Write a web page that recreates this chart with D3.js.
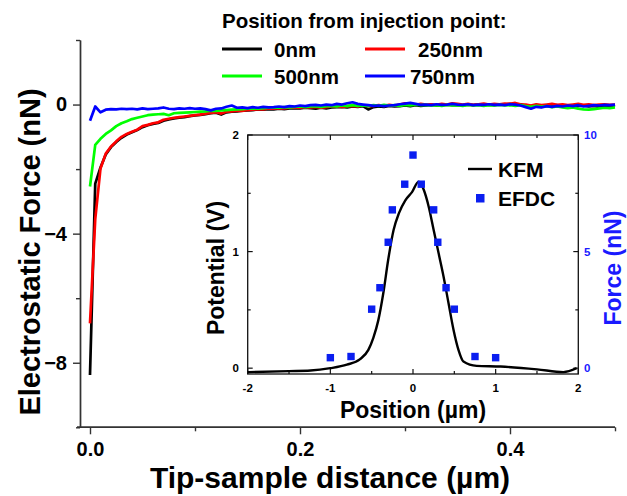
<!DOCTYPE html>
<html><head><meta charset="utf-8">
<script src="https://cdn.jsdelivr.net/npm/d3@7"></script>
<style>body{margin:0;background:#fff}svg{display:block}text{font-family:"Liberation Sans",Arial,sans-serif;font-weight:bold}</style>
</head><body>
<script>
// ---- main chart data ----
const distance = [0,0.005,0.01,0.015,0.02,0.025,0.03,0.035,0.04,0.045,0.05,0.055,0.06,0.065,0.07,0.075,0.08,0.085,0.09,0.095,
0.1,0.105,0.11,0.115,0.12,0.125,0.13,0.135,0.14,0.145,0.15,0.155,0.16,0.165,0.17,0.175,0.18,0.185,0.19,0.195,
0.2,0.205,0.21,0.215,0.22,0.225,0.23,0.235,0.24,0.245,0.25,0.255,0.26,0.265,0.27,0.275,0.28,0.285,0.29,0.295,
0.3,0.305,0.31,0.315,0.32,0.325,0.33,0.335,0.34,0.345,0.35,0.355,0.36,0.365,0.37,0.375,0.38,0.385,0.39,0.395,
0.4,0.405,0.41,0.415,0.42,0.425,0.43,0.435,0.44,0.445,0.45,0.455,0.46,0.465,0.47,0.475,0.48,0.485,0.49,0.495,0.5];
const force0 = [-8.38,-2.45,-1.95,-1.55,-1.32,-1.16,-1.03,-0.93,-0.86,-0.79,-0.70,-0.64,-0.60,-0.57,-0.50,-0.46,-0.43,-0.41,-0.39,-0.36,
-0.34,-0.32,-0.30,-0.27,-0.25,-0.31,-0.24,-0.22,-0.21,-0.19,-0.18,-0.17,-0.15,-0.16,-0.14,-0.15,-0.13,-0.14,-0.12,-0.11,
-0.12,-0.10,-0.11,-0.13,-0.10,-0.12,-0.09,-0.08,-0.07,-0.09,-0.06,-0.07,-0.05,-0.15,-0.08,-0.06,-0.07,-0.04,-0.06,-0.05,
-0.03,-0.05,-0.02,-0.04,-0.03,-0.01,-0.03,-0.02,0.00,-0.02,-0.01,-0.03,0.00,-0.02,0.01,-0.01,0.00,-0.02,0.01,0.00,
0.02,0.00,0.01,-0.03,-0.10,-0.05,-0.07,-0.03,-0.05,-0.02,-0.06,-0.04,-0.07,-0.05,-0.03,-0.06,-0.04,-0.07,-0.03,-0.05,-0.02];
const force250 = [-6.78,-3.55,-1.98,-1.52,-1.30,-1.14,-1.00,-0.91,-0.84,-0.78,-0.67,-0.63,-0.58,-0.55,-0.47,-0.44,-0.41,-0.39,-0.37,-0.35,
-0.33,-0.31,-0.28,-0.26,-0.24,-0.28,-0.22,-0.21,-0.19,-0.20,-0.17,-0.16,-0.14,-0.15,-0.12,-0.13,-0.11,-0.12,-0.10,-0.09,
-0.10,-0.08,-0.09,-0.07,-0.10,-0.08,-0.06,-0.05,-0.07,-0.05,-0.04,-0.06,-0.03,-0.05,-0.04,-0.02,-0.04,-0.01,-0.03,0.00,
0.04,0.01,-0.01,0.02,0.00,0.01,-0.01,0.02,0.00,0.04,0.02,0.00,0.02,-0.01,0.01,0.03,0.00,0.02,0.01,0.03,
0.02,0.05,0.01,0.00,-0.03,0.01,-0.02,0.00,0.02,-0.01,0.01,-0.02,0.00,0.02,-0.01,0.01,-0.02,0.00,0.01,-0.01,0.00];
const force500 = [-2.54,-1.25,-1.06,-0.91,-0.80,-0.67,-0.58,-0.52,-0.45,-0.41,-0.37,-0.33,-0.31,-0.30,-0.29,-0.33,-0.27,-0.26,-0.25,-0.24,
-0.23,-0.22,-0.21,-0.19,-0.20,-0.18,-0.17,-0.16,-0.15,-0.14,-0.13,-0.12,-0.13,-0.11,-0.10,-0.09,-0.10,-0.08,-0.09,-0.07,
-0.06,-0.08,-0.06,-0.05,-0.07,-0.05,-0.04,-0.06,-0.03,-0.05,-0.02,-0.04,-0.03,-0.05,-0.02,-0.04,-0.01,-0.03,-0.02,-0.04,
-0.01,-0.03,0.00,-0.02,-0.01,-0.03,-0.02,-0.04,-0.01,-0.03,-0.02,-0.04,-0.01,-0.03,-0.02,-0.04,-0.02,-0.03,-0.01,-0.03,
-0.02,-0.04,-0.02,-0.05,-0.07,-0.04,-0.06,-0.05,-0.08,-0.06,-0.09,-0.11,-0.09,-0.13,-0.15,-0.16,-0.14,-0.12,-0.10,-0.11,-0.09];
const force750 = [-0.50,-0.06,-0.24,-0.16,-0.14,-0.15,-0.13,-0.14,-0.13,-0.15,-0.12,-0.14,-0.13,-0.12,-0.09,-0.13,-0.14,-0.12,-0.13,-0.11,
-0.13,-0.12,-0.14,-0.18,-0.13,-0.12,-0.07,-0.03,-0.10,-0.09,-0.11,-0.08,-0.10,-0.07,-0.09,-0.08,-0.06,-0.08,-0.05,-0.06,
-0.03,-0.05,-0.02,-0.01,-0.03,0.00,-0.02,0.02,0.00,0.04,0.07,0.02,0.00,-0.02,-0.04,-0.03,-0.05,-0.03,-0.02,0.01,
0.03,0.05,0.02,-0.01,0.00,-0.02,0.01,-0.01,0.00,0.02,0.00,-0.01,0.01,-0.02,0.00,-0.01,0.01,-0.01,0.00,-0.02,
0.01,0.00,-0.03,-0.08,-0.13,-0.07,-0.09,-0.05,-0.07,-0.04,-0.06,-0.03,-0.05,-0.02,-0.06,-0.04,-0.02,-0.03,-0.01,-0.02,0.00];
const seriesNames = ["0nm","250nm","500nm","750nm"];
const seriesColors = ["#000000","#ff0000","#00ff00","#0000ff"];
const xTicks = [0, 0.2, 0.4];
const xMinor = [0.1, 0.3, 0.5];
const yTicks = [0, -4, -8];
const yMinor = [2, -2, -6, -10];

// ---- inset data ----
const kfmPos = [-2.0,-1.5,-1.24,-1.0,-0.8,-0.64,-0.54,-0.48,-0.42,-0.36,-0.30,-0.235,-0.17,-0.093,-0.012,0.068,0.13,0.19,0.25,0.31,0.37,0.43,0.49,0.55,0.61,0.77,1.06,1.5,1.82,1.98];
const kfmPot = [-0.034,-0.025,-0.02,0.0,0.03,0.077,0.157,0.26,0.41,0.64,0.93,1.185,1.33,1.44,1.51,1.60,1.53,1.385,1.185,0.985,0.785,0.557,0.33,0.157,0.057,0.02,0.014,-0.01,-0.034,0.0];
const efdcPos = [-1.0,-0.75,-0.5,-0.4,-0.3,-0.25,-0.1,0.0,0.1,0.25,0.3,0.4,0.5,0.75,1.0];
const efdcForce = [0.45,0.5,2.53,3.45,5.4,6.79,7.89,9.14,7.89,6.79,5.4,3.45,2.53,0.5,0.45];
const insetXTicks = [-2,-1,0,1,2];
const insetYTicks = [0,1,2];
const insetY2Ticks = [0,5,10];

const W = 627, H = 496;
const svg = d3.select("body").append("svg").attr("width", W).attr("height", H);

// main scales
const x = d3.scaleLinear().domain([-0.00952, 0.5]).range([80, 615]);
const y = d3.scaleLinear().domain([-10, 2]).range([427.3, 40]);
const axisCol = "#333";

// main axes
const gx = svg.append("g").attr("transform", `translate(0,${y(-10)})`);
gx.call(d3.axisBottom(x).tickValues(xTicks).tickFormat(d3.format(".1f")).tickSize(7).tickSizeOuter(0));
gx.append("g").call(d3.axisBottom(x).tickValues(xMinor).tickFormat("").tickSize(4).tickSizeOuter(0));
gx.selectAll(".domain").attr("stroke", axisCol).attr("stroke-width", 1.4).attr("d", `M77,0H${x(0.5)}`);
gx.selectAll(".tick line").attr("stroke", axisCol).attr("stroke-width", 1.4);
gx.selectAll(".tick text").attr("font-size", 20).attr("fill", "#000").attr("dy", "0.95em");

const gy = svg.append("g").attr("transform", `translate(${x.range()[0]},0)`);
gy.call(d3.axisLeft(y).tickValues(yTicks).tickFormat(d3.format("d")).tickSize(7).tickSizeOuter(0));
gy.append("g").call(d3.axisLeft(y).tickValues(yMinor).tickFormat("").tickSize(4).tickSizeOuter(0));
gy.selectAll(".domain").attr("stroke", axisCol).attr("stroke-width", 1.4);
gy.selectAll(".tick line").attr("stroke", axisCol).attr("stroke-width", 1.4);
gy.selectAll(".tick text").attr("font-size", 20).attr("fill", "#000").attr("x", -13);

// axis titles
svg.append("text").attr("x", 330).attr("y", 488).attr("text-anchor", "middle").attr("font-size", 30).text("Tip-sample distance (µm)");
svg.append("text").attr("transform", "translate(40,252) rotate(-90)").attr("text-anchor", "middle").attr("font-size", 29).text("Electrostatic Force (nN)");

// lines
const series = [force0, force250, force500, force750];
const line = d3.line().x((d, i) => x(distance[i])).y(d => y(d));
series.forEach((s, k) => {
  svg.append("path").datum(s).attr("d", line).attr("fill", "none")
    .attr("stroke", seriesColors[k]).attr("stroke-width", 2.7).attr("stroke-linejoin", "round");
});

// legend
svg.append("text").attr("x", 222).attr("y", 28).attr("font-size", 20.5).text("Position from injection point:");
const legPos = [[222, 49], [365, 49], [222, 76], [365, 76]];
const legTextX = [274, 418, 274, 410];
seriesNames.forEach((n, k) => {
  const [lx, ly] = legPos[k];
  svg.append("line").attr("x1", lx).attr("x2", lx + 40).attr("y1", ly).attr("y2", ly)
    .attr("stroke", seriesColors[k]).attr("stroke-width", 3);
  svg.append("text").attr("x", legTextX[k]).attr("y", ly + 7.5).attr("font-size", 20.5).text(n);
});

// ---- inset ----
const ix = d3.scaleLinear().domain([-2, 2]).range([247.7, 578.3]);
const iy = d3.scaleLinear().domain([-0.05, 2]).range([374, 135]);
const iy2 = d3.scaleLinear().domain([-0.25, 10]).range([374, 135]);
const ins = svg.append("g");
ins.append("rect").attr("x", ix(-2)).attr("y", iy(2)).attr("width", ix(2) - ix(-2)).attr("height", iy(-0.05) - iy(2))
  .attr("fill", "#fff").attr("stroke", "#111").attr("stroke-width", 1.3);

const iMajor = [-2,-1,0,1,2], iMinor = [-1.5,-0.5,0.5,1.5];
function ticksH(yy, dir) {
  iMajor.forEach(v => ins.append("line").attr("x1", ix(v)).attr("x2", ix(v)).attr("y1", yy).attr("y2", yy + dir * 5).attr("stroke", "#111").attr("stroke-width", 1.2));
  iMinor.forEach(v => ins.append("line").attr("x1", ix(v)).attr("x2", ix(v)).attr("y1", yy).attr("y2", yy + dir * 3).attr("stroke", "#111").attr("stroke-width", 1.2));
}
ticksH(iy(-0.05), -1); ticksH(iy(2), 1);
[0, 0.5, 1, 1.5, 2].forEach((v, i) => {
  const len = i % 2 === 0 ? 5 : 3;
  ins.append("line").attr("x1", ix(-2)).attr("x2", ix(-2) + len).attr("y1", iy(v)).attr("y2", iy(v)).attr("stroke", "#111").attr("stroke-width", 1.2);
});
[0, 2.5, 5, 7.5, 10].forEach((v, i) => {
  const len = i % 2 === 0 ? 5 : 3;
  ins.append("line").attr("x1", ix(2)).attr("x2", ix(2) - len).attr("y1", iy2(v)).attr("y2", iy2(v)).attr("stroke", "#111").attr("stroke-width", 1.2);
});
insetXTicks.forEach(v => ins.append("text").attr("x", ix(v)).attr("y", 392).attr("text-anchor", "middle").attr("font-size", 11.5).text(v));
insetYTicks.forEach(v => ins.append("text").attr("x", 239).attr("y", iy(v) + 4).attr("text-anchor", "end").attr("font-size", 11.5).text(v));
insetY2Ticks.forEach(v => ins.append("text").attr("x", 584).attr("y", iy2(v) + 4).attr("font-size", 11.5).attr("fill", "#1a1aff").text(v));

ins.append("text").attr("x", 413).attr("y", 418).attr("text-anchor", "middle").attr("font-size", 23).text("Position (µm)");
ins.append("text").attr("transform", "translate(224,268) rotate(-90)").attr("text-anchor", "middle").attr("font-size", 23).text("Potential (V)");
ins.append("text").attr("transform", "translate(621,268) rotate(-90)").attr("text-anchor", "middle").attr("font-size", 23).attr("fill", "#1a1aff").text("Force (nN)");

const kline = d3.line().x((d, i) => ix(kfmPos[i])).y(d => iy(d)).curve(d3.curveMonotoneX);
ins.append("path").datum(kfmPot).attr("d", kline).attr("fill", "none").attr("stroke", "#000").attr("stroke-width", 2.4);
ins.selectAll("rect.sq").data(efdcForce).enter().append("rect").attr("class", "sq")
  .attr("x", (d, i) => ix(efdcPos[i]) - 3.7).attr("y", d => iy2(d) - 3.7).attr("width", 7.4).attr("height", 7.4).attr("fill", "#0a1ef0");

// inset legend
ins.append("line").attr("x1", 468).attr("x2", 492).attr("y1", 169).attr("y2", 169).attr("stroke", "#000").attr("stroke-width", 2.4);
ins.append("text").attr("x", 498).attr("y", 177).attr("font-size", 21).text("KFM");
ins.append("rect").attr("x", 476).attr("y", 194).attr("width", 8.5).attr("height", 8.5).attr("fill", "#0a1ef0");
ins.append("text").attr("x", 498).attr("y", 206).attr("font-size", 21).text("EFDC");
</script>
</body></html>
